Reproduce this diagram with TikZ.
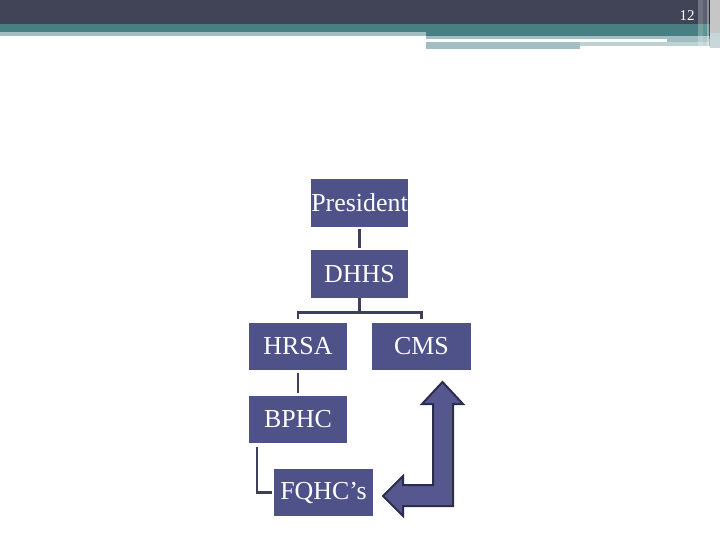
\documentclass[tikz,border=0pt]{standalone}
\usepackage{fontspec}
\setmainfont{Liberation Serif}
\usepackage{tikz}
\usetikzlibrary{arrows}
\definecolor{boxblue}{HTML}{4F5189}
\definecolor{arrowblue}{HTML}{56578F}
\definecolor{arrowline}{HTML}{2C2D4C}
\definecolor{linkgrey}{HTML}{3E3F5C}
\definecolor{bandDark}{HTML}{414357}
\definecolor{bandTeal}{HTML}{477F82}
\definecolor{bandLight}{HTML}{A3BEC2}
\tikzset{
    orgnode/.style={align=center,inner sep=0pt,text centered,rectangle,fill=boxblue,text=white,
        minimum width=97bp,minimum height=48bp,font=\fontsize{26}{26}\selectfont},
    link/.style={draw=linkgrey,line width=2.6bp},
    bigarrow/.style={fill=arrowblue,draw=arrowline,line width=2bp,line join=miter}
}
\begin{document}
\begin{tikzpicture}[x=1bp,y=-1bp]
				\useasboundingbox (0,0) rectangle (720,540);
				% header bands
				\fill[bandDark] (0,0) rectangle (720,24);
				\fill[bandTeal] (0,24) rectangle (720,32);
				\fill[bandLight] (0,32) rectangle (426,36);
				\fill[bandTeal] (426,32) rectangle (720,36);
				\fill[bandLight] (426,36) rectangle (720,39);
				\fill[white] (426,39) rectangle (667,42);
				\fill[bandLight] (667,39) rectangle (709,46);
				\fill[bandLight] (426,42) rectangle (580,49);
				\fill[bandLight!70!white] (580,42) rectangle (709,46);
				\fill[white,opacity=.25] (698,0) rectangle (703,46);
				\fill[white,opacity=.15] (703,0) rectangle (707,46);
				\fill[white,opacity=.4] (707,0) rectangle (709,46);
				\fill[black,opacity=.3] (709,0) rectangle (710,46);
				\fill[gray!45] (710,0) rectangle (720,33);
				\fill[bandLight!60!white] (710,33) rectangle (720,48);
				\node[text=white,font=\fontsize{15}{15}\selectfont] (page) at (687,16) {12};
				
				% chart
				\node[orgnode] (PR) at (359.5,203) {President};
				\node[orgnode] (DH) at (359.5,274) {DHHS};
				\node[orgnode,minimum width=98bp,minimum height=47bp] (HR) at (298,346.5) {HRSA};
				\node[orgnode,minimum width=99bp,minimum height=47bp] (CM) at (421.5,346.5) {CMS};
				\node[orgnode,minimum width=98bp,minimum height=47bp] (BP) at (298,419.5) {BPHC};
				\node[orgnode,minimum width=99bp,minimum height=47bp] (FQ) at (323.5,492.5) {FQHC’s};
				
				\path[link]
				(PR) edge[shorten >=2bp,shorten <=2bp] (DH)
				(HR) edge[shorten >=3bp,shorten <=3bp] (BP);
				\draw[link] (DH.south) -- ++(0,14) coordinate (split);
				\draw[link] ([yshift=4bp]HR.north) |- (split) -| ([yshift=4bp]CM.north);
				\draw[link] ([xshift=8bp,yshift=-4bp]BP.south west) |- ([xshift=-2bp]FQ.west);
				
				% return arrow
				\draw[bigarrow] (442.5,382) -- (463,404) -- (453,404) -- (453,506) -- (403,506)
				-- (403,516) -- (383,496) -- (403,476) -- (403,485) -- (433,485)
				-- (433,404) -- (422,404) -- cycle;
			\end{tikzpicture}
\end{document}
